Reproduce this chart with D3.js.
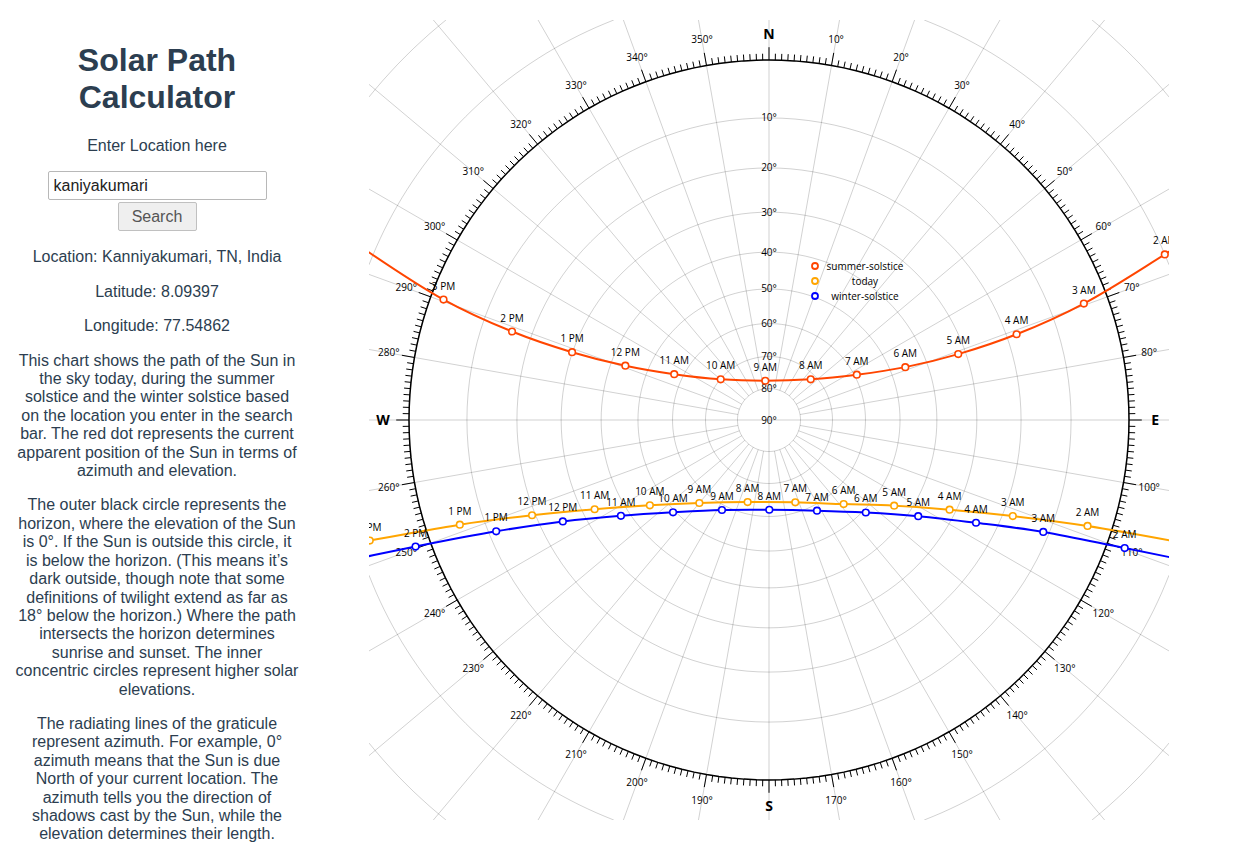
<!DOCTYPE html>
<html>
<head>
<meta charset="utf-8">
<script src="https://cdn.jsdelivr.net/npm/d3@7"></script>
<style>
  html, body { margin: 0; padding: 0; background: #fff; }
  body { font-family: "Liberation Sans", Arial, Helvetica, sans-serif; color: #2c3e50; width: 1239px; height: 853px; overflow: hidden; position: relative; }
  #panel { position: absolute; left: 7px; top: 0; width: 300px; text-align: center; }
  #panel h1 { font-size: 32px; font-weight: bold; line-height: 37px; margin: 42px 0 0 0; }
  #panel p { font-size: 16px; line-height: 18.4px; margin: 16px 0 0 0; white-space: nowrap; }
  #panel p.enter { margin-top: 21px; }
  #panel p.loc { margin-top: 17px; }
  #panel input { display: block; box-sizing: border-box; width: 219px; height: 29px; margin: 16px auto 0 auto; padding: 0 5px; border: 1px solid #b8b8b8; border-radius: 2px; font-family: "Liberation Sans", Arial, sans-serif; font-size: 16px; color: #222; }
  #panel button { display: block; box-sizing: border-box; width: 79px; height: 29px; margin: 2px auto 0 auto; border: 1px solid #c0c0c0; border-radius: 2px; background: #efefef; color: #555; font-family: "Liberation Sans", Arial, sans-serif; font-size: 16px; }
  #chart { position: absolute; left: 369px; top: 20px; }
</style>
</head>
<body>
<div id="panel">
  <h1>Solar Path<br>Calculator</h1>
  <p class="enter">Enter Location here</p>
  <input type="text" value="kaniyakumari">
  <button>Search</button>
  <p class="loc">Location: Kanniyakumari, TN, India</p>
  <p>Latitude: 8.09397</p>
  <p>Longitude: 77.54862</p>
  <p>This chart shows the path of the Sun in<br>the sky today, during the summer<br>solstice and the winter solstice based<br>on the location you enter in the search<br>bar. The red dot represents the current<br>apparent position of the Sun in terms of<br>azimuth and elevation.</p>
  <p>The outer black circle represents the<br>horizon, where the elevation of the Sun<br>is 0°. If the Sun is outside this circle, it<br>is below the horizon. (This means it’s<br>dark outside, though note that some<br>definitions of twilight extend as far as<br>18° below the horizon.) Where the path<br>intersects the horizon determines<br>sunrise and sunset. The inner<br>concentric circles represent higher solar<br>elevations.</p>
  <p>The radiating lines of the graticule<br>represent azimuth. For example, 0°<br>azimuth means that the Sun is due<br>North of your current location. The<br>azimuth tells you the direction of<br>shadows cast by the Sun, while the<br>elevation determines their length.</p>
</div>
<div id="chart"></div>
<script>
// ---------- data ----------
const hourLabels = ["1 AM","2 AM","3 AM","4 AM","5 AM","6 AM","7 AM","8 AM","9 AM","10 AM","11 AM","12 PM","1 PM","2 PM","3 PM","4 PM"];

const summerAzimuth   = [65.0, 67.3, 69.7, 70.9, 70.8, 68.8, 62.7, 45.7, 354.6, 310.1, 295.8, 290.7, 289.0, 289.0, 290.3, 293.1];
const summerElevation = [-24.0, -10.0, 4.0, 17.9, 31.8, 45.8, 59.3, 71.6, 77.5, 70.1, 57.4, 43.8, 29.9, 15.9, 2.1, -12.4];

const todayAzimuth    = [106.5, 108.4, 111.5, 116.4, 124.4, 138.4, 162.3, 194.6, 220.0, 234.4, 242.9, 248.1, 251.3, 253.2, 255.0];
const todayElevation  = [-10.6, 4.0, 17.9, 31.5, 44.3, 55.3, 63.0, 63.5, 56.5, 45.7, 32.9, 19.3, 5.6, -8.4, -22.0];

const winterAzimuth   = [108.0, 109.8, 112.2, 116.4, 122.8, 133.7, 152.1, 179.8, 207.6, 226.1, 237.1, 243.8, 247.8, 250.3, 252.0];
const winterElevation = [-16.5, -2.8, 11.1, 24.6, 37.5, 49.2, 58.2, 62.0, 58.5, 49.4, 37.8, 24.9, 11.4, -2.4, -16.0];

const seriesNames  = ["summer-solstice", "today", "winter-solstice"];
const seriesColors = ["#ff4500", "#ffa500", "#0000ff"];

const elevationTicks = d3.range(10, 91, 10);
const azimuthTicks = d3.range(0, 360, 10);
const compass = {0: "N", 90: "E", 180: "S", 270: "W"};

// ---------- chart ----------
const W = 800, H = 800;
const projection = d3.geoStereographic()
  .reflectX(true)
  .rotate([180, -90])
  .scale(360)
  .translate([W / 2, H / 2])
  .clipExtent([[0, 0], [W, H]])
  .precision(0.1);
const path = d3.geoPath(projection);

const svg = d3.select("#chart").append("svg")
  .attr("width", W).attr("height", H)
  .attr("viewBox", [0, 0, W, H])
  .style("display", "block")
  .style("overflow", "hidden")
  .attr("font-family", "'Open Sans', 'Noto Sans', sans-serif")
  .attr("font-size", 10)
  .attr("text-anchor", "middle")
  .attr("fill", "#000");

svg.append("path")
  .attr("d", path(d3.geoGraticule().stepMinor([10, 10])()))
  .attr("fill", "none")
  .attr("stroke", "#000")
  .attr("stroke-opacity", 0.18);

svg.append("path")
  .attr("d", path(d3.geoCircle().radius(90).center([0, 90])()))
  .attr("fill", "none")
  .attr("stroke", "#000")
  .attr("stroke-width", 1.5);

svg.append("g")
  .selectAll("line")
  .data(d3.range(360))
  .join("line")
  .each(function(d) {
    const p0 = projection([d, 0]);
    const p1 = projection([d, d % 10 ? -1 : -2]);
    d3.select(this).attr("x1", p0[0]).attr("y1", p0[1]).attr("x2", p1[0]).attr("y2", p1[1]);
  })
  .attr("stroke", "#000");

svg.append("g")
  .selectAll("text")
  .data(azimuthTicks)
  .join("text")
  .attr("dy", "0.35em")
  .attr("font-size", d => d % 90 ? 10 : 14)
  .attr("font-weight", d => d % 90 ? null : "bold")
  .attr("x", d => projection([d, -4])[0])
  .attr("y", d => projection([d, -4])[1])
  .text(d => compass[d] || `${d}°`);

svg.append("g")
  .selectAll("text")
  .data(elevationTicks)
  .join("text")
  .attr("dy", "0.35em")
  .attr("x", d => projection([0, d])[0])
  .attr("y", d => projection([0, d])[1])
  .text(d => `${d}°`);

const series = [
  {az: summerAzimuth, el: summerElevation},
  {az: todayAzimuth, el: todayElevation},
  {az: winterAzimuth, el: winterElevation}
].map((s, i) => ({
  name: seriesNames[i],
  color: seriesColors[i],
  points: s.az.map((a, j) => ({label: hourLabels[j], p: projection([a, s.el[j]])}))
}));

const line = d3.line().curve(d3.curveCatmullRom.alpha(0.5)).x(d => d.p[0]).y(d => d.p[1]);

series.forEach(s => {
  const g = svg.append("g");
  g.append("path")
    .attr("d", line(s.points))
    .attr("fill", "none")
    .attr("stroke", s.color)
    .attr("stroke-width", 2);
  g.selectAll("circle")
    .data(s.points)
    .join("circle")
    .attr("cx", d => d.p[0])
    .attr("cy", d => d.p[1])
    .attr("r", 3.3)
    .attr("fill", "#fff")
    .attr("stroke", s.color)
    .attr("stroke-width", 1.6);
  g.selectAll("text")
    .data(s.points)
    .join("text")
    .attr("x", d => d.p[0])
    .attr("y", d => d.p[1] - 10)
    .text(d => d.label);
});

const legend = svg.append("g").attr("transform", "translate(446,246)");
seriesNames.forEach((n, i) => {
  legend.append("circle")
    .attr("cx", 0).attr("cy", i * 15)
    .attr("r", 3)
    .attr("fill", "#fff")
    .attr("stroke", seriesColors[i])
    .attr("stroke-width", 1.8);
  legend.append("text")
    .attr("x", 50).attr("y", i * 15)
    .attr("dy", "0.35em")
    .text(n);
});
</script>
</body>
</html>
